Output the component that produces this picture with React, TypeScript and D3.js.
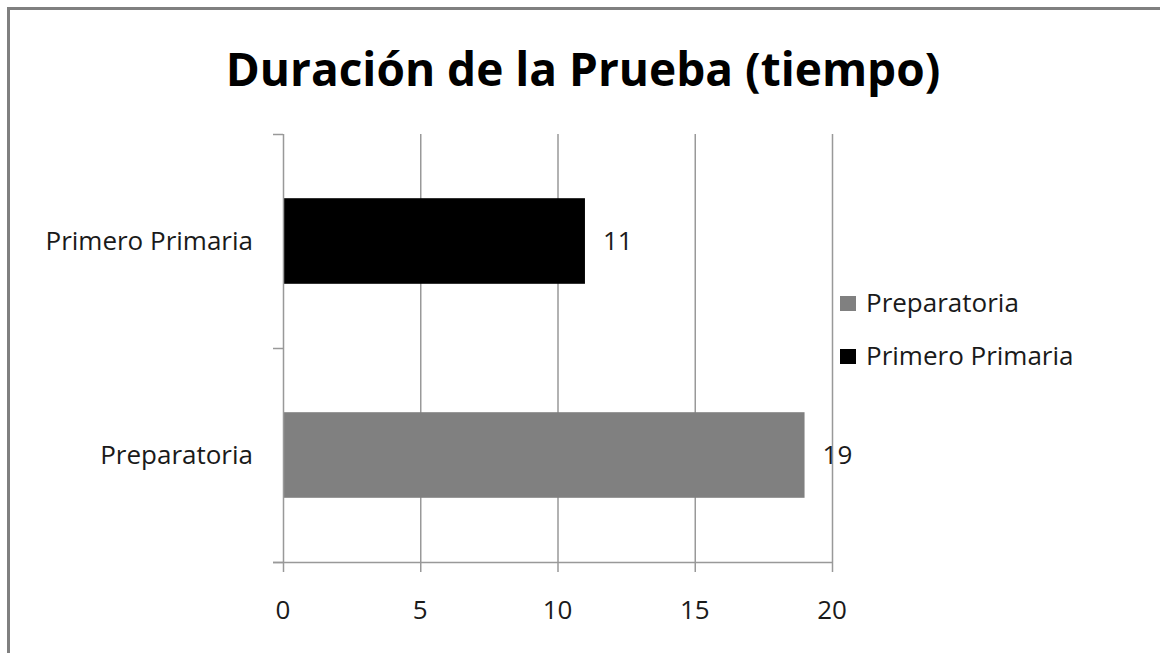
import React, { useEffect, useRef } from 'react';
import * as d3 from 'd3';

const categories = ['Primero Primaria', 'Preparatoria'];
const values = [11, 19];
const colors = ['#000000', '#808080'];
const legendItems = ['Preparatoria', 'Primero Primaria'];
const legendColors = ['#808080', '#000000'];
const xTicks = [0, 5, 10, 15, 20];
const title = 'Duración de la Prueba (tiempo)';

export default function App() {
    const ref = useRef<SVGSVGElement>(null);

    useEffect(() => {
        const width = 1160;
        const height = 653;
        const font = '"Open Sans", Lato, sans-serif';
        const textColor = '#1a1a1a';
        const fontSize = 26;

        const svg = d3.select(ref.current);
        svg.selectAll('*').remove();

        // outer frame (runs off the right and bottom edges)
        svg.append('rect')
            .attr('x', 8.5).attr('y', 8.5)
            .attr('width', width + 20).attr('height', height + 20)
            .attr('fill', '#fff')
            .attr('stroke', '#808080')
            .attr('stroke-width', 3);

        svg.append('text')
            .attr('x', 583).attr('y', 86)
            .attr('text-anchor', 'middle')
            .attr('font-family', font)
            .attr('font-weight', 'bold')
            .attr('font-size', 46)
            .text(title);

        const left = 283, right = 832, top = 134, bottom = 562;

        const x = d3.scaleLinear().domain([0, 20]).range([left, right]);
        const y = d3.scaleBand().domain(categories).range([top, bottom]).paddingInner(0.6).paddingOuter(0.3);
        const band = d3.scaleBand().domain(categories).range([top, bottom]);

        // vertical gridlines
        svg.append('g').selectAll('line').data(xTicks.slice(1)).enter()
            .append('line')
            .attr('x1', d => x(d) + 0.5).attr('x2', d => x(d) + 0.5)
            .attr('y1', top).attr('y2', bottom)
            .attr('stroke', '#999').attr('stroke-width', 1.5);

        // bars
        svg.append('g').selectAll('rect').data(values).enter()
            .append('rect')
            .attr('x', x(0))
            .attr('y', (d, i) => y(categories[i]) as number)
            .attr('width', d => x(d) - x(0))
            .attr('height', y.bandwidth())
            .attr('fill', (d, i) => colors[i]);

        // value labels
        svg.append('g').selectAll('text').data(values).enter()
            .append('text')
            .attr('x', d => x(d) + 18)
            .attr('y', (d, i) => (y(categories[i]) as number) + y.bandwidth() / 2)
            .attr('dy', '0.35em')
            .attr('font-family', font)
            .attr('font-size', fontSize)
            .attr('fill', textColor)
            .text(d => d);

        // y axis
        const yAxis = svg.append('g');
        yAxis.append('line')
            .attr('x1', left + 0.5).attr('x2', left + 0.5)
            .attr('y1', top).attr('y2', bottom)
            .attr('stroke', '#999').attr('stroke-width', 1.5);
        const yTickPos = [top, ...categories.map(c => (band(c) as number) + band.bandwidth())];
        yAxis.selectAll('line.tick').data(yTickPos).enter()
            .append('line')
            .attr('class', 'tick')
            .attr('x1', left - 10).attr('x2', left)
            .attr('y1', d => d + 0.5).attr('y2', d => d + 0.5)
            .attr('stroke', '#999').attr('stroke-width', 1.5);
        yAxis.selectAll('text').data(categories).enter()
            .append('text')
            .attr('x', left - 30)
            .attr('y', d => (band(d) as number) + band.bandwidth() / 2)
            .attr('dy', '0.35em')
            .attr('text-anchor', 'end')
            .attr('font-family', font)
            .attr('font-size', fontSize)
            .attr('fill', textColor)
            .text(d => d);

        // x axis
        const xAxis = svg.append('g');
        xAxis.append('line')
            .attr('x1', left - 10).attr('x2', right)
            .attr('y1', bottom + 0.5).attr('y2', bottom + 0.5)
            .attr('stroke', '#999').attr('stroke-width', 1.5);
        xAxis.selectAll('line.tick').data(xTicks).enter()
            .append('line')
            .attr('class', 'tick')
            .attr('x1', d => x(d) + 0.5).attr('x2', d => x(d) + 0.5)
            .attr('y1', bottom).attr('y2', bottom + 10)
            .attr('stroke', '#999').attr('stroke-width', 1.5);
        xAxis.selectAll('text').data(xTicks).enter()
            .append('text')
            .attr('x', d => x(d))
            .attr('y', 619)
            .attr('text-anchor', 'middle')
            .attr('font-family', font)
            .attr('font-size', fontSize)
            .attr('fill', textColor)
            .text(d => d);

        // legend
        const legend = svg.append('g').attr('transform', 'translate(840, 303)');
        const items = legend.selectAll('g').data(legendItems).enter()
            .append('g')
            .attr('transform', (d, i) => `translate(0, ${i * 53})`);
        items.append('rect')
            .attr('x', 0).attr('y', -7)
            .attr('width', 16).attr('height', 15)
            .attr('fill', (d, i) => legendColors[i]);
        items.append('text')
            .attr('x', 26).attr('y', 0)
            .attr('dy', '0.35em')
            .attr('font-family', font)
            .attr('font-size', fontSize)
            .attr('fill', textColor)
            .text(d => d);
    }, []);

    return (
        <svg ref={ref} width={1160} height={653}
            style={{ position: 'absolute', left: 0, top: 0, background: '#fff' }} />
    );
}
